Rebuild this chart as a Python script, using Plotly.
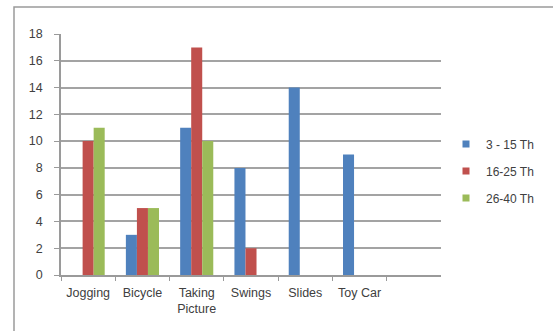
import plotly.graph_objects as go

categories = ["Jogging", "Bicycle", "Taking<br>Picture", "Swings", "Slides", "Toy Car"]
series_names = ["3 - 15 Th", "16-25 Th", "26-40 Th"]
values_3_15 = [0, 3, 11, 8, 14, 9]
values_16_25 = [10, 5, 17, 2, 0, 0]
values_26_40 = [11, 5, 10, 0, 0, 0]
y_ticks = [0, 2, 4, 6, 8, 10, 12, 14, 16, 18]

colors = ["#4F81BD", "#C0504D", "#9BBB59"]
series_values = [values_3_15, values_16_25, values_26_40]

fig = go.Figure()
for name, vals, c in zip(series_names, series_values, colors):
    fig.add_trace(go.Bar(
        x=categories, y=vals, name=name, showlegend=False,
        marker=dict(color=c, line=dict(width=0)),
    ))
for i, (name, c) in enumerate(zip(series_names, colors)):
    fig.add_trace(go.Scatter(
        x=[None], y=[None], mode="markers", name=name, legendgroup=f"g{i}",
        marker=dict(symbol="square", size=7, color=c),
    ))

L, R, T, B = 61, 441, 34, 275
W, H = 553, 331
pw, ph = R - L, B - T

fig.update_layout(
    width=W, height=H,
    margin=dict(l=L, r=W - R, t=T, b=H - B, pad=0),
    paper_bgcolor="white", plot_bgcolor="white",
    font=dict(family="Liberation Sans, Arial, sans-serif", size=12, color="#404040"),
    barmode="group", bargap=0.39, bargroupgap=0,
    legend=dict(
        x=(446 - L) / pw, xanchor="left",
        y=(B - 171) / ph, yanchor="middle",
        font=dict(size=12, color="#404040"),
        tracegroupgap=8,
        bgcolor="rgba(0,0,0,0)",
    ),
    shapes=[dict(
        type="rect", xref="paper", yref="paper",
        x0=(14 - L) / pw, x1=(600 - L) / pw,
        y0=(B - 400) / ph, y1=(B - 7) / ph,
        line=dict(color="#9a9a9a", width=1.5), fillcolor="rgba(0,0,0,0)",
        layer="below",
    )],
)
fig.update_xaxes(
    categoryorder="array", categoryarray=categories,
    range=[-0.5, 6.5],
    showline=True, linecolor="#9a9a9a", linewidth=1.5,
    ticks="outside", tickson="boundaries", ticklen=4, tickcolor="#9a9a9a",
    showgrid=False, ticklabelstandoff=5,
    tickfont=dict(size=12.5, color="#404040"),
)
fig.update_yaxes(
    range=[0, 18], tickvals=y_ticks,
    showline=True, linecolor="#9a9a9a", linewidth=1.5,
    ticks="outside", ticklen=5, tickcolor="#9a9a9a",
    showgrid=True, gridcolor="#a3a3a3", gridwidth=1.5,
    zeroline=False, ticklabelstandoff=9,
    tickfont=dict(size=12.5, color="#404040"),
)

fig.write_html("out.html")
